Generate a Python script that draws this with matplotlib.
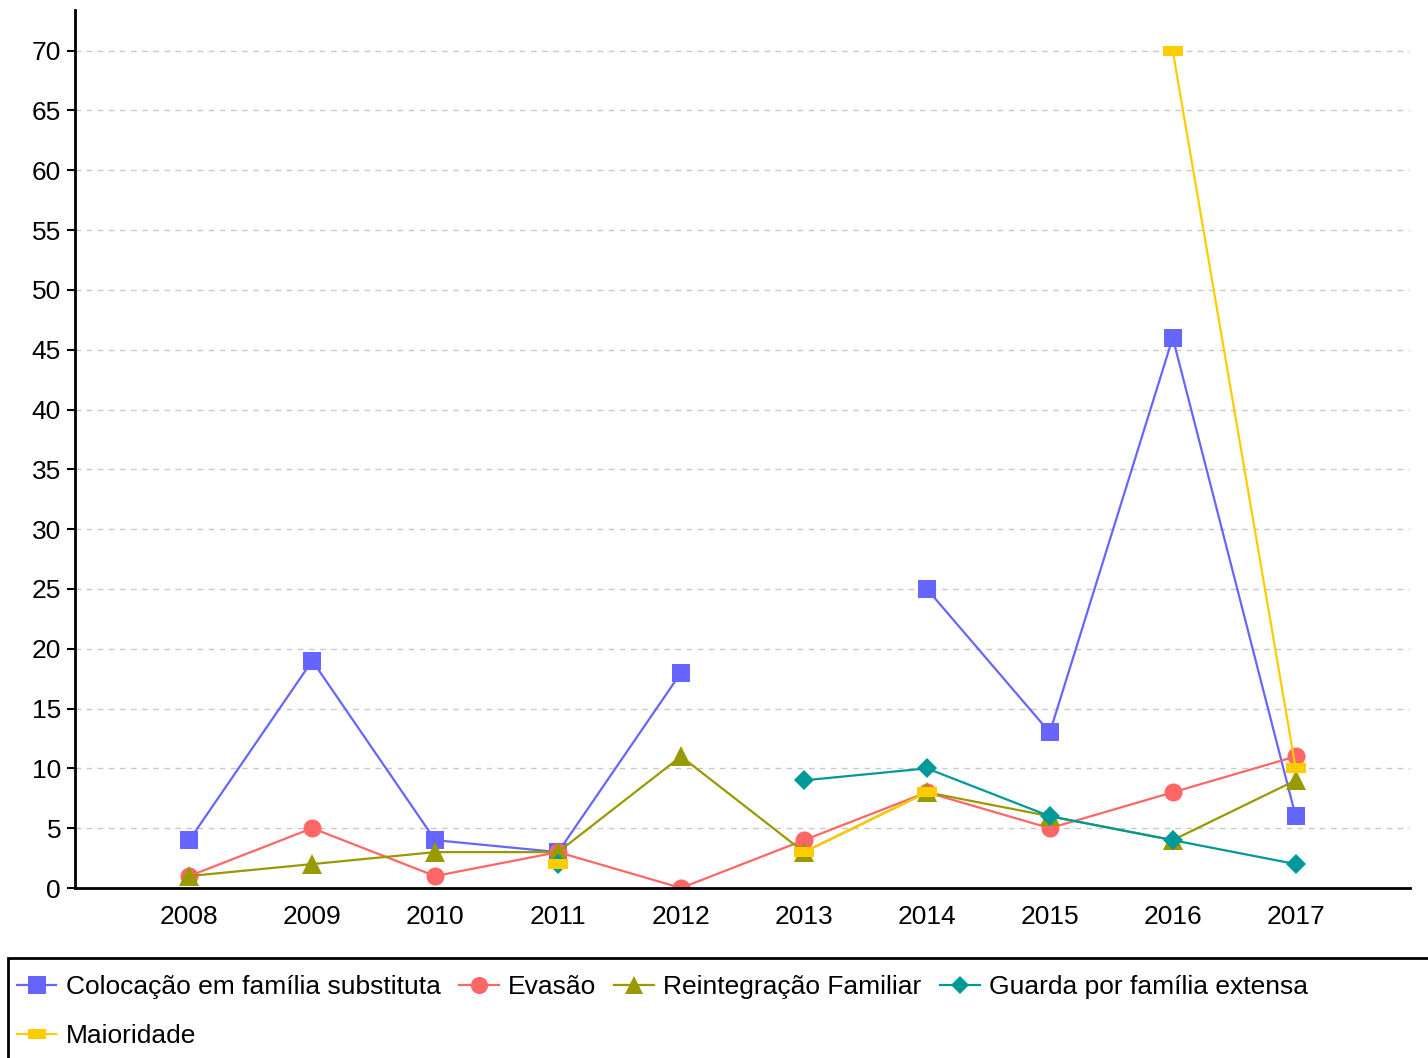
import numpy as np
import matplotlib
matplotlib.use('Agg')
import matplotlib.pyplot as plt
from matplotlib.patches import Rectangle

plt.rcParams['font.family'] = ['Liberation Sans', 'DejaVu Sans']

# dados
anos = [2008, 2009, 2010, 2011, 2012, 2013, 2014, 2015, 2016, 2017]
nan = np.nan
colocacao = [4, 19, 4, 3, 18, nan, 25, 13, 46, 6]
evasao = [1, 5, 1, 3, 0, 4, 8, 5, 8, 11]
reintegracao = [1, 2, 3, 3, 11, 3, 8, 6, 4, 9]
guarda = [nan, nan, nan, 2, nan, 9, 10, 6, 4, 2]
maioridade = [nan, nan, nan, 2, nan, 3, 8, nan, 70, 10]

series = [
    ('Colocação em família substituta', colocacao, '#6666ff', 's', 13),
    ('Evasão', evasao, '#ff6666', 'o', 13),
    ('Reintegração Familiar', reintegracao, '#999900', '^', 14),
    ('Guarda por família extensa', guarda, '#009999', 'D', 10),
    ('Maioridade', maioridade, '#ffcc00',
     [(-1, -0.5), (1, -0.5), (1, 0.5), (-1, 0.5)], 14),
]

fig = plt.figure(figsize=(14.28, 10.58), dpi=100)
ax = fig.add_axes([75 / 1428, 1 - 888 / 1058, 1335 / 1428, 878 / 1058])

for nome, vals, cor, mk, ms in series:
    ax.plot(anos, vals, color=cor, lw=1.6, marker=mk, markersize=ms,
            markeredgewidth=0, label=nome)

ax.set_xlim(2007.07, 2017.93)
ax.set_ylim(0, 73.4)
ax.set_yticks(range(0, 71, 5))
ax.set_xticks(anos)
ax.tick_params(axis='y', labelsize=19, length=6, width=1.5, pad=4)
ax.tick_params(axis='x', labelsize=19, length=0, pad=12)
ax.grid(axis='y', color='#c8c8c8', linestyle=(0, (4, 4)), lw=1)
ax.set_axisbelow(True)
for s in ['top', 'right']:
    ax.spines[s].set_visible(False)
ax.spines['left'].set_linewidth(2)
ax.spines['bottom'].set_linewidth(2)

# caixa da legenda
fig.patches.append(Rectangle((8 / 1428, -0.05), 1.1, (1058 - 958) / 1058 + 0.05,
                             transform=fig.transFigure, fill=False,
                             edgecolor='black', lw=2))
handles, labels = ax.get_legend_handles_labels()
ordem = [0, 4, 1, 2, 3]  # preencher por linhas
fig.legend([handles[i] for i in ordem], [labels[i] for i in ordem],
           loc='upper left', bbox_to_anchor=(-7 / 1428, 1 - 951 / 1058),
           ncol=4, frameon=False, fontsize=19, handlelength=1.5,
           handletextpad=0.35, columnspacing=0.7, labelspacing=0.95,
           markerscale=0.95)

plt.savefig('out.png', dpi=100)
